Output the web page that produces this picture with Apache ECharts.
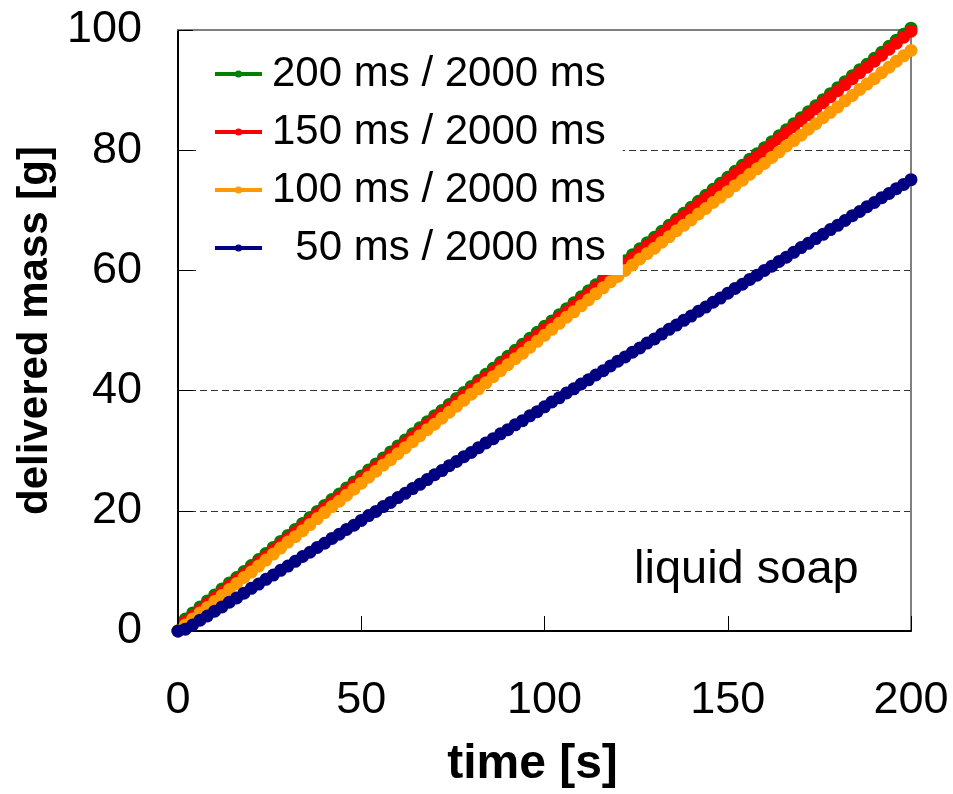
<!DOCTYPE html>
<html>
<head>
<meta charset="utf-8">
<title>delivered mass - liquid soap</title>
<script src="https://cdn.jsdelivr.net/npm/echarts@6/dist/echarts.min.js"></script>
<style>
  html, body { margin: 0; padding: 0; background: #fff; }
  #chart { width: 953px; height: 794px; }
</style>
</head>
<body>
<div id="chart"></div>
<script>
// time stamps [s], one point per 2000 ms cycle
var times = [0,2,4,6,8,10,12,14,16,18,20,22,24,26,28,30,32,34,36,38,40,42,44,46,48,50,52,54,56,58,60,62,64,66,68,70,72,74,76,78,80,82,84,86,88,90,92,94,96,98,100,102,104,106,108,110,112,114,116,118,120,122,124,126,128,130,132,134,136,138,140,142,144,146,148,150,152,154,156,158,160,162,164,166,168,170,172,174,176,178,180,182,184,186,188,190,192,194,196,198,200];

// delivered mass [g]
var mass200 = [0,2.0,3.0,4.0,5.0,6.0,7.0,8.0,8.9,9.9,10.9,11.9,12.9,13.9,14.9,15.9,16.9,17.9,18.9,19.9,20.9,21.9,22.8,23.8,24.8,25.8,26.8,27.8,28.8,29.8,30.8,31.8,32.8,33.8,34.8,35.8,36.7,37.7,38.7,39.7,40.7,41.7,42.7,43.7,44.7,45.7,46.7,47.7,48.7,49.7,50.7,51.6,52.6,53.6,54.6,55.6,56.6,57.6,58.6,59.6,60.6,61.6,62.6,63.6,64.6,65.5,66.5,67.5,68.5,69.5,70.5,71.5,72.5,73.5,74.5,75.5,76.5,77.5,78.5,79.4,80.4,81.4,82.4,83.4,84.4,85.4,86.4,87.4,88.4,89.4,90.4,91.4,92.4,93.4,94.3,95.3,96.3,97.3,98.3,99.3,100.3];
var mass150 = [0,1.5,2.5,3.5,4.5,5.5,6.5,7.5,8.4,9.4,10.4,11.4,12.4,13.4,14.4,15.4,16.4,17.4,18.4,19.4,20.4,21.4,22.3,23.3,24.3,25.3,26.3,27.3,28.3,29.3,30.3,31.3,32.3,33.3,34.3,35.3,36.2,37.2,38.2,39.2,40.2,41.2,42.2,43.2,44.2,45.2,46.2,47.2,48.2,49.2,50.2,51.1,52.1,53.1,54.1,55.1,56.1,57.1,58.1,59.1,60.1,61.1,62.1,63.1,64.1,65.0,66.0,67.0,68.0,69.0,70.0,71.0,72.0,73.0,74.0,75.0,76.0,77.0,78.0,78.9,79.9,80.9,81.9,82.9,83.9,84.9,85.9,86.9,87.9,88.9,89.9,90.9,91.9,92.9,93.8,94.8,95.8,96.8,97.8,98.8,99.8];
var mass100 = [0,1.0,2.0,3.0,3.9,4.9,5.9,6.9,7.9,8.9,9.8,10.8,11.8,12.8,13.8,14.8,15.7,16.7,17.7,18.7,19.7,20.7,21.6,22.6,23.6,24.6,25.6,26.6,27.6,28.5,29.5,30.5,31.5,32.5,33.5,34.4,35.4,36.4,37.4,38.4,39.4,40.3,41.3,42.3,43.3,44.3,45.3,46.2,47.2,48.2,49.2,50.2,51.2,52.2,53.1,54.1,55.1,56.1,57.1,58.1,59.0,60.0,60.9,61.9,62.8,63.7,64.7,65.6,66.6,67.5,68.4,69.4,70.3,71.3,72.2,73.1,74.1,75.0,76.0,76.9,77.8,78.8,79.7,80.7,81.6,82.5,83.5,84.4,85.4,86.3,87.2,88.2,89.1,90.1,91.0,91.9,92.9,93.8,94.8,95.7,96.6];
var mass50 = [0,0.3,1.0,1.8,2.5,3.3,4.0,4.8,5.5,6.3,7.1,7.8,8.6,9.3,10.1,10.8,11.6,12.4,13.1,13.9,14.6,15.4,16.1,16.9,17.6,18.4,19.2,19.9,20.7,21.4,22.2,22.9,23.7,24.4,25.2,26.0,26.7,27.5,28.2,29.0,29.7,30.5,31.3,32.0,32.8,33.5,34.3,35.0,35.8,36.5,37.3,38.1,38.8,39.6,40.3,41.1,41.8,42.6,43.3,44.1,44.9,45.6,46.4,47.1,47.9,48.6,49.4,50.2,50.9,51.7,52.4,53.2,53.9,54.7,55.4,56.2,57.0,57.7,58.5,59.2,60.0,60.7,61.5,62.2,63.0,63.8,64.5,65.3,66.0,66.8,67.5,68.3,69.1,69.8,70.6,71.3,72.1,72.8,73.6,74.3,75.1];

var seriesNames = ['200 ms / 2000 ms', '150 ms / 2000 ms', '100 ms / 2000 ms', '  50 ms / 2000 ms'];
var seriesColors = ['#008000', '#ff0000', '#ff9900', '#000080'];
var xTicks = [0, 50, 100, 150, 200];
var yTicks = [0, 20, 40, 60, 80, 100];

var FONT = 'Liberation Sans, Arial, sans-serif';

function pairs(vals){
	var out = [];
	for (var i = 0; i < times.length; i++) {
		out.push([times[i], vals[i]]);
	}
	return out;
}

var allMass = [mass200, mass150, mass100, mass50];
var series = [];
for (var k = 0; k < allMass.length; k++) {
	series.push({
		name: seriesNames[k],
		type: 'line',
		data: pairs(allMass[k]),
		symbol: 'circle',
		symbolSize: 13,
		showSymbol: true,
		clip: false,
		animation: false,
		itemStyle: { color: seriesColors[k] },
		lineStyle: { color: seriesColors[k], width: 5 }
	});
}

var mychart = echarts.init(document.getElementById('chart'));
var option = {
	animation: false,
	backgroundColor: '#fff',
	grid: {
		left: 178, right: 42, top: 30, bottom: 162
	},
	legend: {
		orient: 'vertical',
		left: 200,
		top: 31,
		padding: [18, 17, 2, 13],
		backgroundColor: '#fff',
		itemWidth: 47,
		itemHeight: 9,
		itemGap: 8,
		lineStyle: { width: 4 },
		textStyle: {
			fontFamily: FONT,
			fontSize: 42,
			lineHeight: 50,
			color: '#000',
			padding: [0, 0, 0, 5]
		},
		data: seriesNames
	},
	xAxis: [{
		type: 'value',
		min: xTicks[0],
		max: xTicks[xTicks.length - 1],
		interval: 50,
		name: 'time [s]',
		nameLocation: 'middle',
		nameGap: 110,
		nameTextStyle: { fontFamily: FONT, fontSize: 48, fontWeight: 'bold', color: '#000', padding: [0, 24, 0, 0] },
		axisLine: { onZero: false, lineStyle: { color: '#000', width: 2 } },
		axisTick: { inside: true, length: 15, lineStyle: { color: '#000', width: 1 } },
		axisLabel: { fontFamily: FONT, fontSize: 45, color: '#000', margin: 47 },
		splitLine: { show: false }
	}, {
		// top border of the plot area
		type: 'value',
		position: 'top',
		min: xTicks[0],
		max: xTicks[xTicks.length - 1],
		interval: 50,
		axisLine: { show: true, onZero: false, lineStyle: { color: '#808080', width: 2 } },
		axisTick: { show: false },
		axisLabel: { show: false },
		splitLine: { show: false }
	}],
	yAxis: [{
		type: 'value',
		min: yTicks[0],
		max: yTicks[yTicks.length - 1],
		interval: 20,
		name: 'delivered mass [g]',
		nameLocation: 'middle',
		nameRotate: 90,
		nameGap: 120,
		nameTextStyle: { fontFamily: FONT, fontSize: 42, fontWeight: 'bold', color: '#000' },
		axisLine: { show: true, onZero: false, lineStyle: { color: '#000', width: 2 } },
		axisTick: { show: true, inside: true, length: 15, lineStyle: { color: '#000', width: 1 } },
		axisLabel: { fontFamily: FONT, fontSize: 45, color: '#000', margin: 36 },
		splitLine: { show: true, lineStyle: { color: '#333', width: 1, type: [7, 4] } }
	}, {
		// right border of the plot area
		type: 'value',
		position: 'right',
		min: yTicks[0],
		max: yTicks[yTicks.length - 1],
		interval: 20,
		axisLine: { show: true, onZero: false, lineStyle: { color: '#808080', width: 2 } },
		axisTick: { show: false },
		axisLabel: { show: false },
		splitLine: { show: false }
	}],
	graphic: [{
		type: 'text',
		left: 634,
		top: 547,
		style: {
			text: 'liquid soap',
			fontFamily: FONT,
			fontSize: 47,
			fill: '#000'
		}
	}],
	series: series
};
mychart.setOption(option);
</script>
</body>
</html>
